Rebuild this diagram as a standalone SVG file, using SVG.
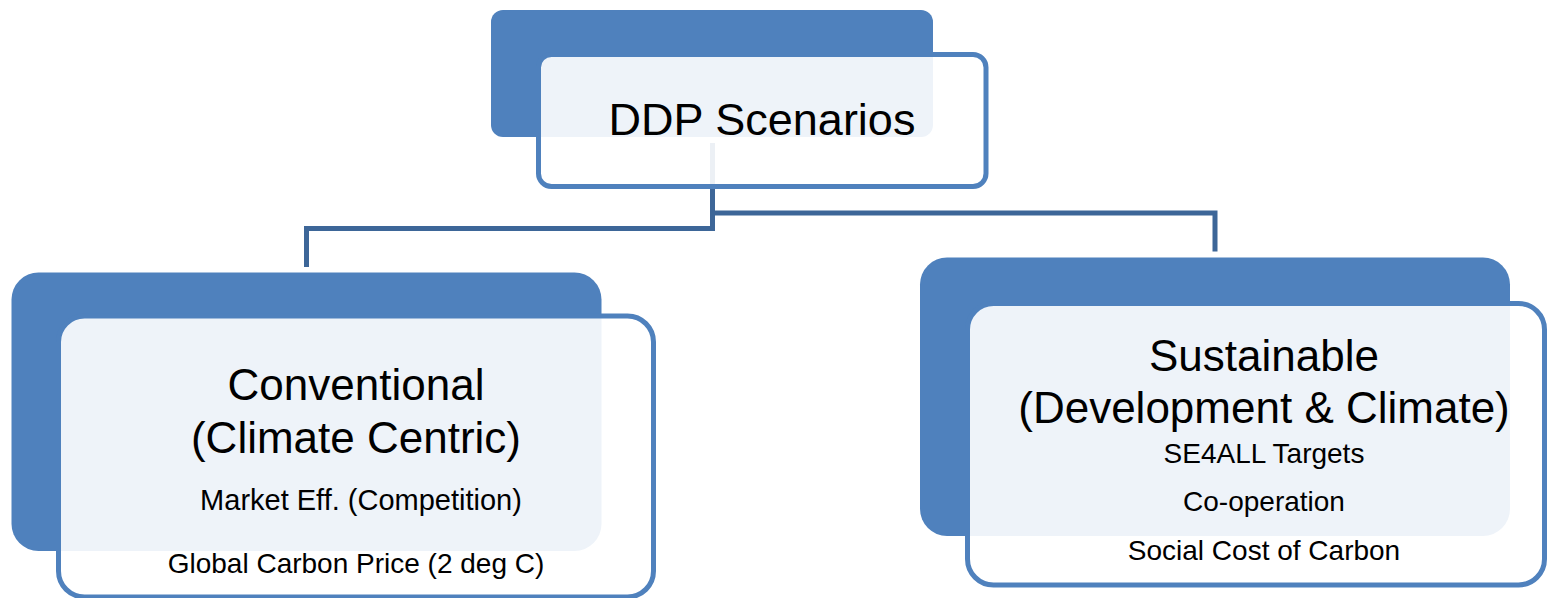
<svg xmlns="http://www.w3.org/2000/svg" width="1548" height="598" viewBox="0 0 1548 598">
  <style>
    .back { fill: #4f81bd; }
    .front { fill: #ffffff; fill-opacity: 0.9; stroke: #4f81bd; stroke-width: 5; }
    .conn { fill: none; stroke: #3d6698; stroke-width: 5; stroke-linejoin: miter; }
    text { font-family: "Liberation Sans", Arial, sans-serif; fill: #000000; text-anchor: middle; }
    .big { font-size: 44px; }
    .title { font-size: 45px; }
    .small { font-size: 28px; }
    .small2 { font-size: 29px; }
  </style>
  <rect width="1548" height="598" fill="#ffffff"/>
  <g id="connectors">
    <path class="conn" d="M712.5 143 V228.5 H306.5 V267"/>
    <path class="conn" d="M712.5 213 H1215 V251.5"/>
  </g>
  <g id="node-ddp">
    <rect class="back" x="491" y="10" width="442" height="127" rx="12" ry="12"/>
    <rect class="front" x="538.5" y="54.5" width="447.5" height="132" rx="13" ry="13"/>
    <text class="title" x="762" y="135">DDP Scenarios</text>
  </g>
  <g id="node-conventional">
    <rect class="back" x="11.5" y="272.5" width="590" height="278.5" rx="27" ry="27"/>
    <rect class="front" x="58.5" y="316" width="595" height="281" rx="26" ry="26"/>
    <text class="big" x="356" y="400">Conventional</text>
    <text class="big" x="356" y="453">(Climate Centric)</text>
    <text class="small2" x="361" y="510">Market Eff. (Competition)</text>
    <text class="small" x="356" y="573">Global Carbon Price (2 deg C)</text>
  </g>
  <g id="node-sustainable">
    <rect class="back" x="920" y="257.5" width="590" height="278.5" rx="27" ry="27"/>
    <rect class="front" x="967.5" y="303.5" width="577" height="281.5" rx="26" ry="26"/>
    <text class="big" x="1264" y="371">Sustainable</text>
    <text class="big" x="1264" y="423">(Development &amp; Climate)</text>
    <text class="small" x="1264" y="463">SE4ALL Targets</text>
    <text class="small" x="1264" y="511">Co-operation</text>
    <text class="small" x="1264" y="560">Social Cost of Carbon</text>
  </g>
</svg>
